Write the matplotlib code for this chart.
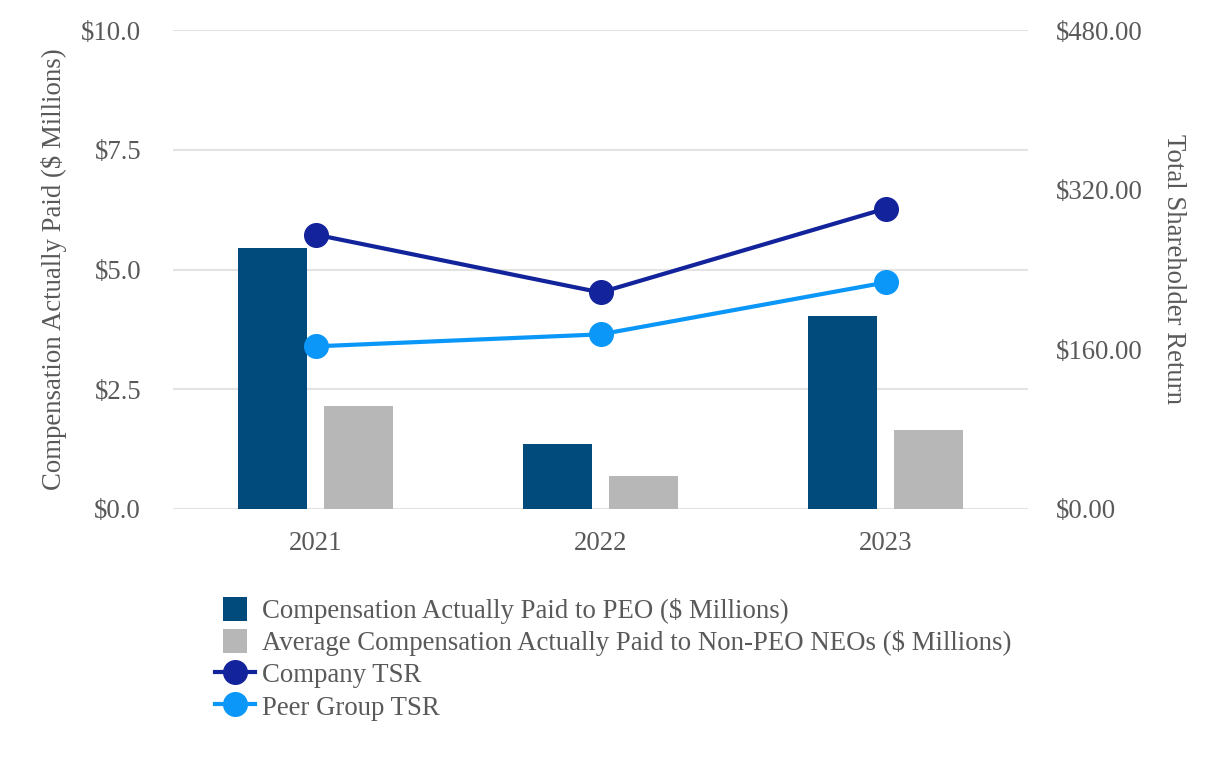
import numpy as np
import matplotlib.pyplot as plt
from matplotlib.ticker import FuncFormatter
from matplotlib.patches import Rectangle
from matplotlib.legend_handler import HandlerPatch

years = ["2021", "2022", "2023"]
cap_peo = [5.45, 1.36, 4.03]
cap_non_peo = [2.15, 0.69, 1.65]
company_tsr = [275, 217, 301]
peer_tsr = [163, 175, 227]

TEXT = "#595959"
FS = 19.3
plt.rcParams["font.family"] = ["Liberation Serif", "DejaVu Serif"]
plt.rcParams["font.size"] = FS


def square_patch(legend, orig_handle, xdescent, ydescent, width, height, fontsize):
    # square legend swatch centred in the handle box
    side = height
    return Rectangle((width / 2 - side / 2 - xdescent, -ydescent), side, side)


fig = plt.figure(figsize=(12.26, 7.6), dpi=100)
ax = fig.add_axes([173 / 1226, 1 - 509 / 760, 855 / 1226, 479 / 760])
ax2 = ax.twinx()

x = np.arange(len(years))
w = 0.245
b1 = ax.bar(x - 0.151, cap_peo, w, color="#004A7C")
b2 = ax.bar(x + 0.151, cap_non_peo, w, color="#B7B7B7")
l1, = ax2.plot(x, company_tsr, color="#13239B", lw=3, marker="o", ms=17)
l2, = ax2.plot(x, peer_tsr, color="#0B97F7", lw=3, marker="o", ms=17)

ax.set_xlim(-0.5, 2.5)
ax.set_ylim(0, 10)
ax.set_yticks([0, 2.5, 5, 7.5, 10])
ax.yaxis.set_major_formatter(FuncFormatter(lambda v, p: f"${v:.1f}"))
ax2.set_ylim(0, 480)
ax2.set_yticks([0, 160, 320, 480])
ax2.yaxis.set_major_formatter(FuncFormatter(lambda v, p: f"${v:.2f}"))
ax.set_xticks(x)
ax.set_xticklabels(years)

ax.grid(axis="y", color="#E3E3E3", lw=1.5)
ax.set_axisbelow(True)
for a in (ax, ax2):
    for s in a.spines.values():
        s.set_visible(False)
    a.tick_params(length=0, colors=TEXT, labelsize=FS)
ax.tick_params(axis="y", pad=23)
ax.tick_params(axis="x", pad=16)
ax2.tick_params(axis="y", pad=20)

ax.set_ylabel("Compensation Actually Paid ($ Millions)", color=TEXT, labelpad=10)
ax2.set_ylabel("Total Shareholder Return", color=TEXT, rotation=270, labelpad=31)

labels = ["Compensation Actually Paid to PEO ($ Millions)",
          "Average Compensation Actually Paid to Non-PEO NEOs ($ Millions)",
          "Company TSR", "Peer Group TSR"]
fig.legend([b1[0], b2[0], l1, l2], labels, loc="upper left",
           bbox_to_anchor=(204 / 1226, 1 - 586 / 760),
           frameon=False, labelcolor=TEXT, fontsize=FS, handlelength=1.5, handleheight=1.0,
           handletextpad=0.25, labelspacing=0.19, borderaxespad=0,
           handler_map={Rectangle: HandlerPatch(patch_func=square_patch)})

fig.savefig("out.png", dpi=100)
